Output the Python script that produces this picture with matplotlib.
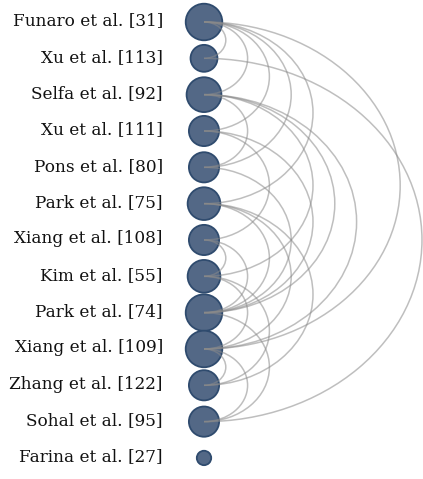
import numpy as np
import matplotlib
matplotlib.use("Agg")
import matplotlib.pyplot as plt
from matplotlib.patches import Arc

# papers, top to bottom
papers = [
    "Funaro et al. [31]", "Xu et al. [113]", "Selfa et al. [92]", "Xu et al. [111]",
    "Pons et al. [80]", "Park et al. [75]", "Xiang et al. [108]", "Kim et al. [55]",
    "Park et al. [74]", "Xiang et al. [109]", "Zhang et al. [122]", "Sohal et al. [95]",
    "Farina et al. [27]",
]

# links between papers (index pairs)
src = [0, 0, 0, 0, 0, 0, 1, 2, 2, 2, 2, 3, 3, 4, 5, 5, 5, 6, 6, 7, 7, 8, 9, 9]
dst = [1, 2, 3, 4, 5, 9, 11, 4, 7, 8, 9, 6, 8, 8, 8, 9, 10, 7, 8, 9, 10, 11, 10, 11]

node_color = "#536886"
edge_color = "#2f4b6e"
arc_color = "#8a8a8a"

n = len(papers)
degree = np.zeros(n)
for a, b in zip(src, dst):
    degree[a] += 1
    degree[b] += 1

W, H, dpi = 423, 479, 100
fig = plt.figure(figsize=(W / dpi, H / dpi), dpi=dpi)
ax = fig.add_axes([0, 0, 1, 1])

step = 36.33  # px per node
ax.set_xlim(-204 / step, (W - 204) / step)
ax.set_ylim((H - 22) / step, -22 / step)
ax.axis("off")

ys = np.arange(n)
# node radius in px grows with log of degree
r_px = 7.2 + 5.7 * np.log(degree + 1)
sizes = (2 * r_px * 72 / dpi) ** 2
ax.scatter(np.zeros(n), ys, s=sizes, color=node_color, edgecolor=edge_color,
           linewidth=1.3, zorder=2)

for a, b in zip(src, dst):
    d = abs(b - a)
    arc = Arc((0, (a + b) / 2), width=1.2 * d, height=d, theta1=-90, theta2=90,
              color=arc_color, alpha=0.55, lw=1.1, zorder=3)
    ax.add_patch(arc)

for y, name in zip(ys, papers):
    ax.text(-1.13, y - 0.03, name, ha="right", va="center", fontsize=12.2,
            family="DejaVu Serif", color="#111111")

fig.savefig("out.png", dpi=dpi)
